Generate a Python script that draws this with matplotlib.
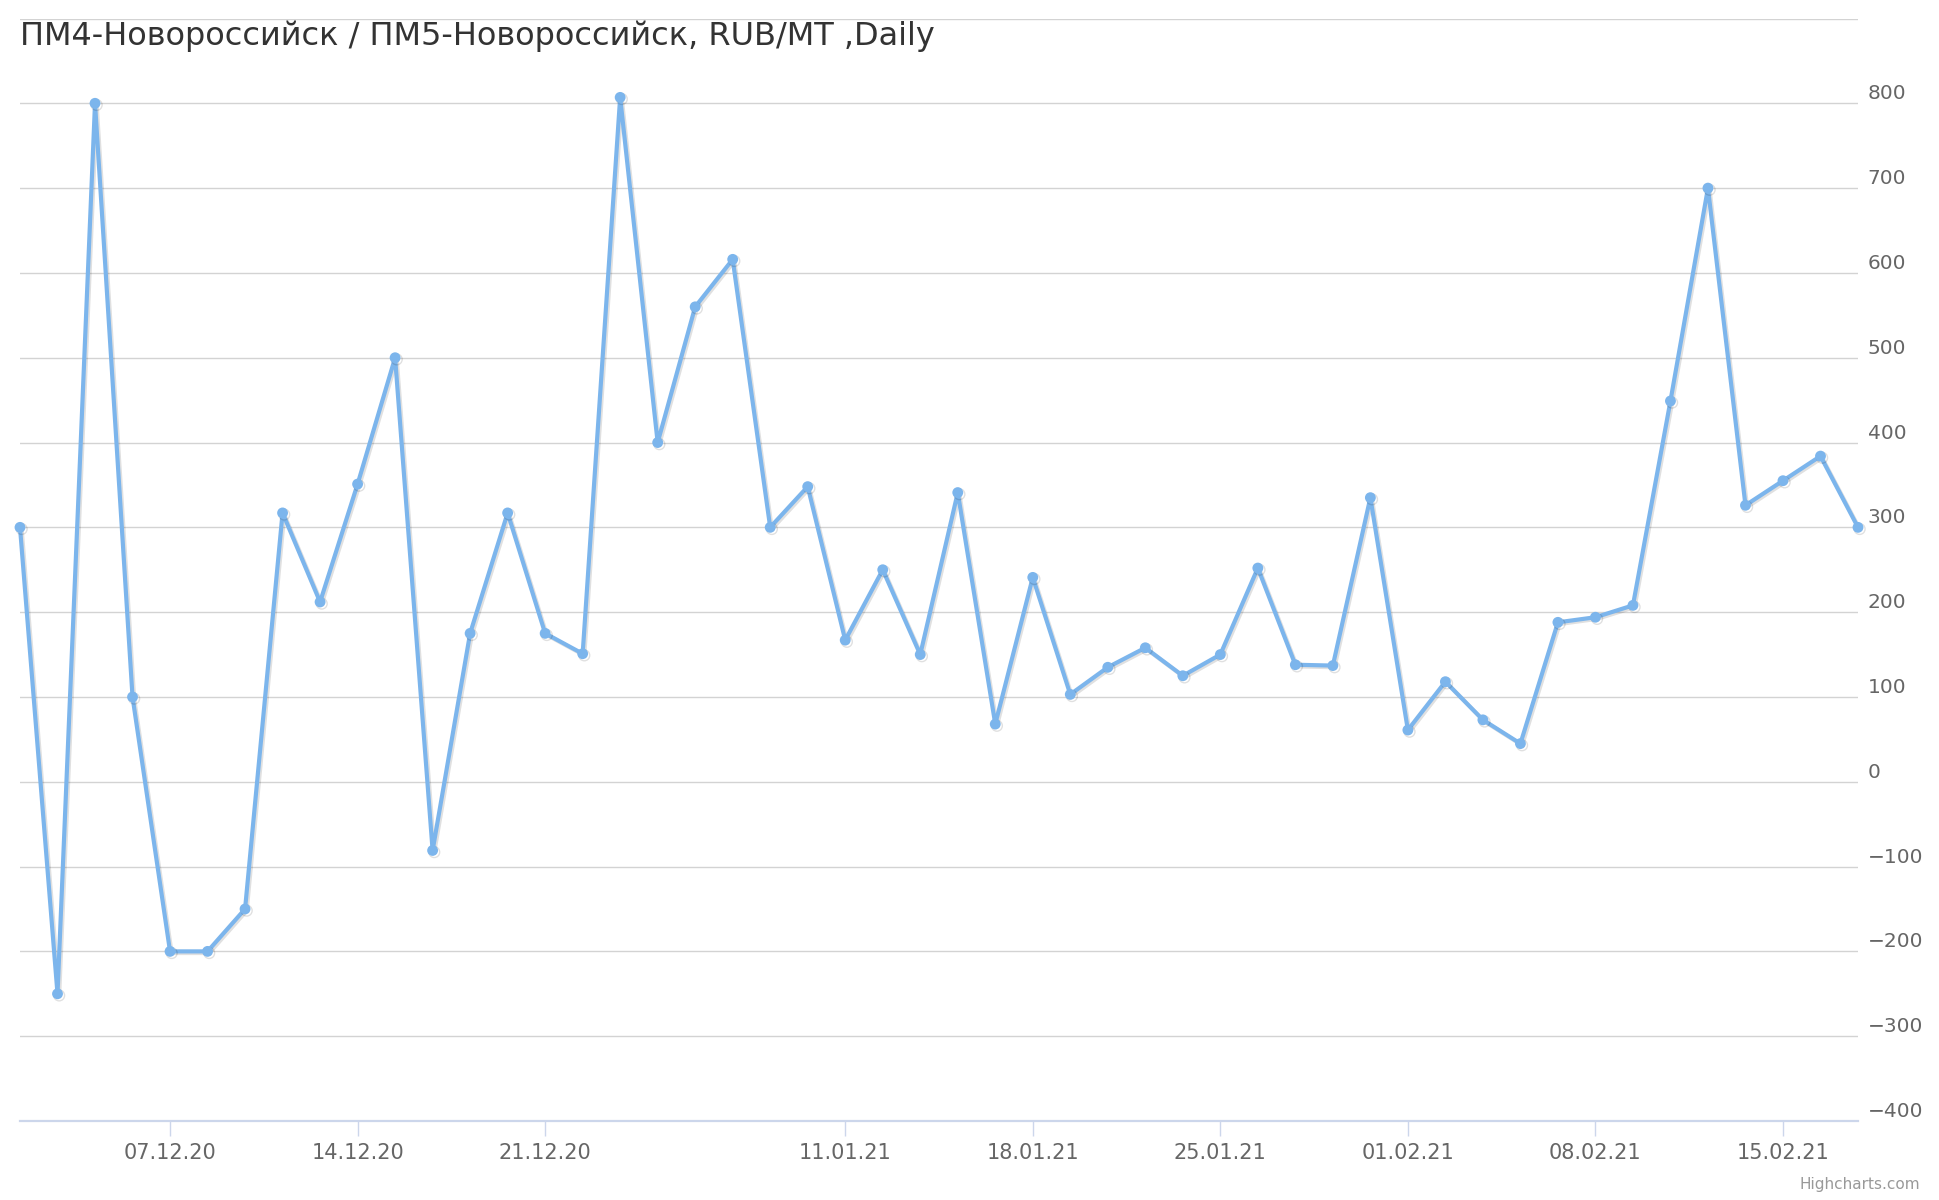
import matplotlib
matplotlib.use("Agg")
import matplotlib.pyplot as plt
import matplotlib.patheffects as pe
import numpy as np

# trading days shown on the chart (ordinal axis, weekends / holidays skipped)
dates = [
    "01.12.20", "02.12.20", "03.12.20", "04.12.20",
    "07.12.20", "08.12.20", "09.12.20", "10.12.20", "11.12.20",
    "14.12.20", "15.12.20", "16.12.20", "17.12.20", "18.12.20",
    "21.12.20", "22.12.20", "23.12.20", "24.12.20", "25.12.20",
    "28.12.20", "29.12.20", "30.12.20",
    "11.01.21", "12.01.21", "13.01.21", "14.01.21", "15.01.21",
    "18.01.21", "19.01.21", "20.01.21", "21.01.21", "22.01.21",
    "25.01.21", "26.01.21", "27.01.21", "28.01.21", "29.01.21",
    "01.02.21", "02.02.21", "03.02.21", "04.02.21", "05.02.21",
    "08.02.21", "09.02.21", "10.02.21", "11.02.21", "12.02.21",
    "15.02.21", "16.02.21", "17.02.21",
]
spread = [
    300, -250, 800, 100, -200, -200, -150, 317, 212, 351,
    500, -81, 175, 317, 175, 151, 807, 400, 560, 616,
    300, 348, 167, 250, 150, 341, 68, 241, 103, 135,
    158, 125, 150, 252, 138, 137, 335, 61, 118, 73,
    45, 188, 194, 208, 449, 700, 326, 355, 384, 300,
]
tick_dates = ["07.12.20", "14.12.20", "21.12.20", "11.01.21", "18.01.21",
              "25.01.21", "01.02.21", "08.02.21", "15.02.21"]
y_ticks = [-400, -300, -200, -100, 0, 100, 200, 300, 400, 500, 600, 700, 800, 900]

title = "ПМ4-Новороссийск / ПМ5-Новороссийск, RUB/MT ,Daily"

W, H = 1940, 1200
fig = plt.figure(figsize=(W / 100, H / 100), dpi=100)
ax = fig.add_axes([20 / W, 1 - 1121 / H, (1858 - 20) / W, (1121 - 18.5) / H])

x = np.arange(len(dates))
ax.plot(x, spread, color="#7cb5ec", lw=3.0, marker="o", ms=7.8, mec="none",
        solid_joinstyle="round", clip_on=False, zorder=3,
        path_effects=[pe.SimpleLineShadow(offset=(1.2, -1.2), alpha=0.12),
                      pe.Normal()])

ax.set_xlim(0, len(dates) - 1)
ax.set_ylim(-400, 900)

# y axis on the right, labels sitting above grid lines
ylabels = ["\u2212%d" % -v if v < 0 else str(v) for v in y_ticks]
ylabels[-1] = ""
ax.yaxis.tick_right()
ax.set_yticks(y_ticks, ylabels, va="bottom")
ax.tick_params(axis="y", length=0, pad=7, labelsize=14.5, labelcolor="#666666")
ax.grid(axis="y", color="#d3d3d3", lw=1.0)
ax.set_axisbelow(True)

ax.set_xticks([dates.index(d) for d in tick_dates], tick_dates)
ax.tick_params(axis="x", length=11, width=1, color="#ccd6eb", pad=5,
               labelsize=15, labelcolor="#666666")

for s in ["top", "left", "right"]:
    ax.spines[s].set_visible(False)
ax.spines["bottom"].set_color("#ccd6eb")
ax.spines["bottom"].set_linewidth(1.6)

fig.text(20 / W, 1 - 36 / H, title, fontsize=23, color="#333333",
         ha="left", va="center")
fig.text(1920 / W, 1 - 1184 / H, "Highcharts.com", fontsize=11,
         color="#999999", ha="right", va="center")

fig.savefig("out.png", dpi=100)
